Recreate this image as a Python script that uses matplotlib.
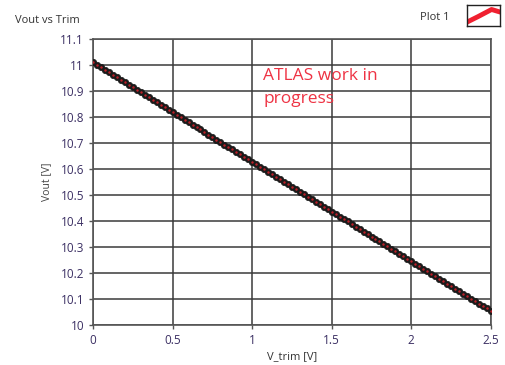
import matplotlib.pyplot as plt
import numpy as np

plt.rcParams['font.family'] = ['Open Sans', 'DejaVu Sans']

# Vout, trim swept 0..2.5 V
vout = [11.010, 11.000, 10.991, 10.981, 10.972, 10.962, 10.953, 10.943, 10.933, 10.924,
        10.914, 10.905, 10.895, 10.886, 10.876, 10.866, 10.857, 10.847, 10.838, 10.828,
        10.819, 10.809, 10.799, 10.790, 10.780, 10.771, 10.761, 10.752, 10.742, 10.732,
        10.723, 10.713, 10.704, 10.694, 10.685, 10.675, 10.665, 10.656, 10.646, 10.637,
        10.627, 10.618, 10.608, 10.598, 10.589, 10.579, 10.570, 10.560, 10.551, 10.541,
        10.532, 10.522, 10.512, 10.503, 10.493, 10.484, 10.474, 10.465, 10.455, 10.445,
        10.436, 10.426, 10.417, 10.407, 10.398, 10.388, 10.378, 10.369, 10.359, 10.350,
        10.340, 10.331, 10.321, 10.311, 10.302, 10.292, 10.283, 10.273, 10.264, 10.254,
        10.244, 10.235, 10.225, 10.216, 10.206, 10.197, 10.187, 10.177, 10.168, 10.158,
        10.149, 10.139, 10.130, 10.120, 10.110, 10.101, 10.091, 10.082, 10.072, 10.063,
        10.053]
vtrim = np.linspace(0, 2.5, len(vout))

xticks = [0, 0.5, 1, 1.5, 2, 2.5]
xticklabels = ['0', '0.5', '1', '1.5', '2', '2.5']
yticks = [10, 10.1, 10.2, 10.3, 10.4, 10.5, 10.6, 10.7, 10.8, 10.9, 11, 11.1]
yticklabels = ['10', '10.1', '10.2', '10.3', '10.4', '10.5', '10.6', '10.7', '10.8', '10.9', '11', '11.1']

fig = plt.figure(figsize=(5.06, 3.65), dpi=100)
ax = fig.add_axes([0.184, 0.110, 0.786, 0.783])

ax.plot(vtrim, vout, color='#e8262b', linewidth=1.5, marker='o', markersize=4.6,
        markerfacecolor='#1a1a1a', markeredgecolor='#1a1a1a', markeredgewidth=0.5, zorder=3)
ax.plot(vtrim, vout, linestyle='none', marker='.', markersize=1.5, color='#c0202a', zorder=4)

ax.set_xlim(0, 2.5)
ax.set_ylim(10, 11.1)
ax.set_xticks(xticks)
ax.set_xticklabels(xticklabels)
ax.set_yticks(yticks)
ax.set_yticklabels(yticklabels)
ax.grid(True, color='#3a3a3a', linewidth=1.1)
ax.tick_params(colors='#555555', labelcolor='#3b2f63', labelsize=8.5, length=3, width=1)
for s in ax.spines.values():
    s.set_color('#555555')
    s.set_linewidth(1.2)

ax.set_xlabel('V_trim [V]', fontsize=8, color='#333333', labelpad=3)
ax.set_ylabel('Vout [V]', fontsize=7.5, color='#444444', labelpad=6)

ax.text(1.07, 10.915, 'ATLAS work in\nprogress', color='#ee3344', fontsize=12.5,
        va='center', ha='left', linespacing=1.6)

fig.text(0.03, 0.945, 'Vout vs Trim', fontsize=8, color='#333333', va='center',
         fontweight='medium')
fig.text(0.83, 0.953, 'Plot 1', fontsize=8, color='#333333', va='center',
         fontweight='medium')

icon = fig.add_axes([0.922, 0.93, 0.066, 0.055])
icon.plot([0.05, 0.35, 0.75, 0.95], [0.2, 0.45, 0.8, 0.7], color='#f02030', linewidth=3.5)
icon.set_xlim(0, 1)
icon.set_ylim(0, 1)
icon.set_xticks([])
icon.set_yticks([])
for s in icon.spines.values():
    s.set_color('#222222')
    s.set_linewidth(1)

fig.savefig('out.png', dpi=100)
